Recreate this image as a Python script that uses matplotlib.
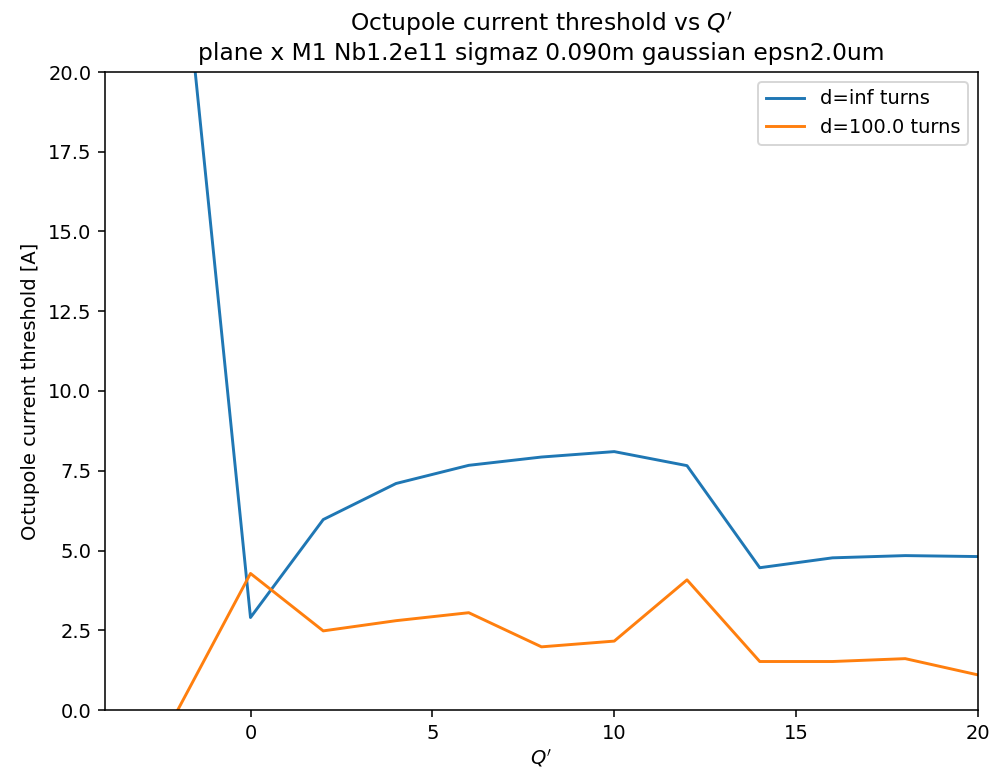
import numpy as np
import matplotlib
matplotlib.use('Agg')
import matplotlib.pyplot as plt

qp = [-2, 0, 2, 4, 6, 8, 10, 12, 14, 16, 18, 20]
thr_inf = [25.4, 2.9, 5.97, 7.1, 7.67, 7.93, 8.1, 7.66, 4.46, 4.77, 4.84, 4.81]
thr_100 = [0.0, 4.28, 2.48, 2.8, 3.05, 1.98, 2.16, 4.08, 1.52, 1.52, 1.61, 1.10]

fig, ax = plt.subplots(figsize=(990 / 140, 770 / 140), dpi=140)
ax.plot(qp, thr_inf, label='d=inf turns')
ax.plot(qp, thr_100, label='d=100.0 turns')
ax.set_xlim(-4, 20)
ax.set_ylim(0, 20)
ax.set_xlabel("$Q'$", labelpad=2.5)
ax.set_ylabel('Octupole current threshold [A]')
ax.set_title("Octupole current threshold vs $Q'$\nplane x M1 Nb1.2e11 sigmaz 0.090m gaussian epsn2.0um")
ax.legend()
fig.subplots_adjust(left=105 / 990, right=978 / 990, top=1 - 72 / 770, bottom=1 - 710 / 770)
fig.savefig('out.png')
